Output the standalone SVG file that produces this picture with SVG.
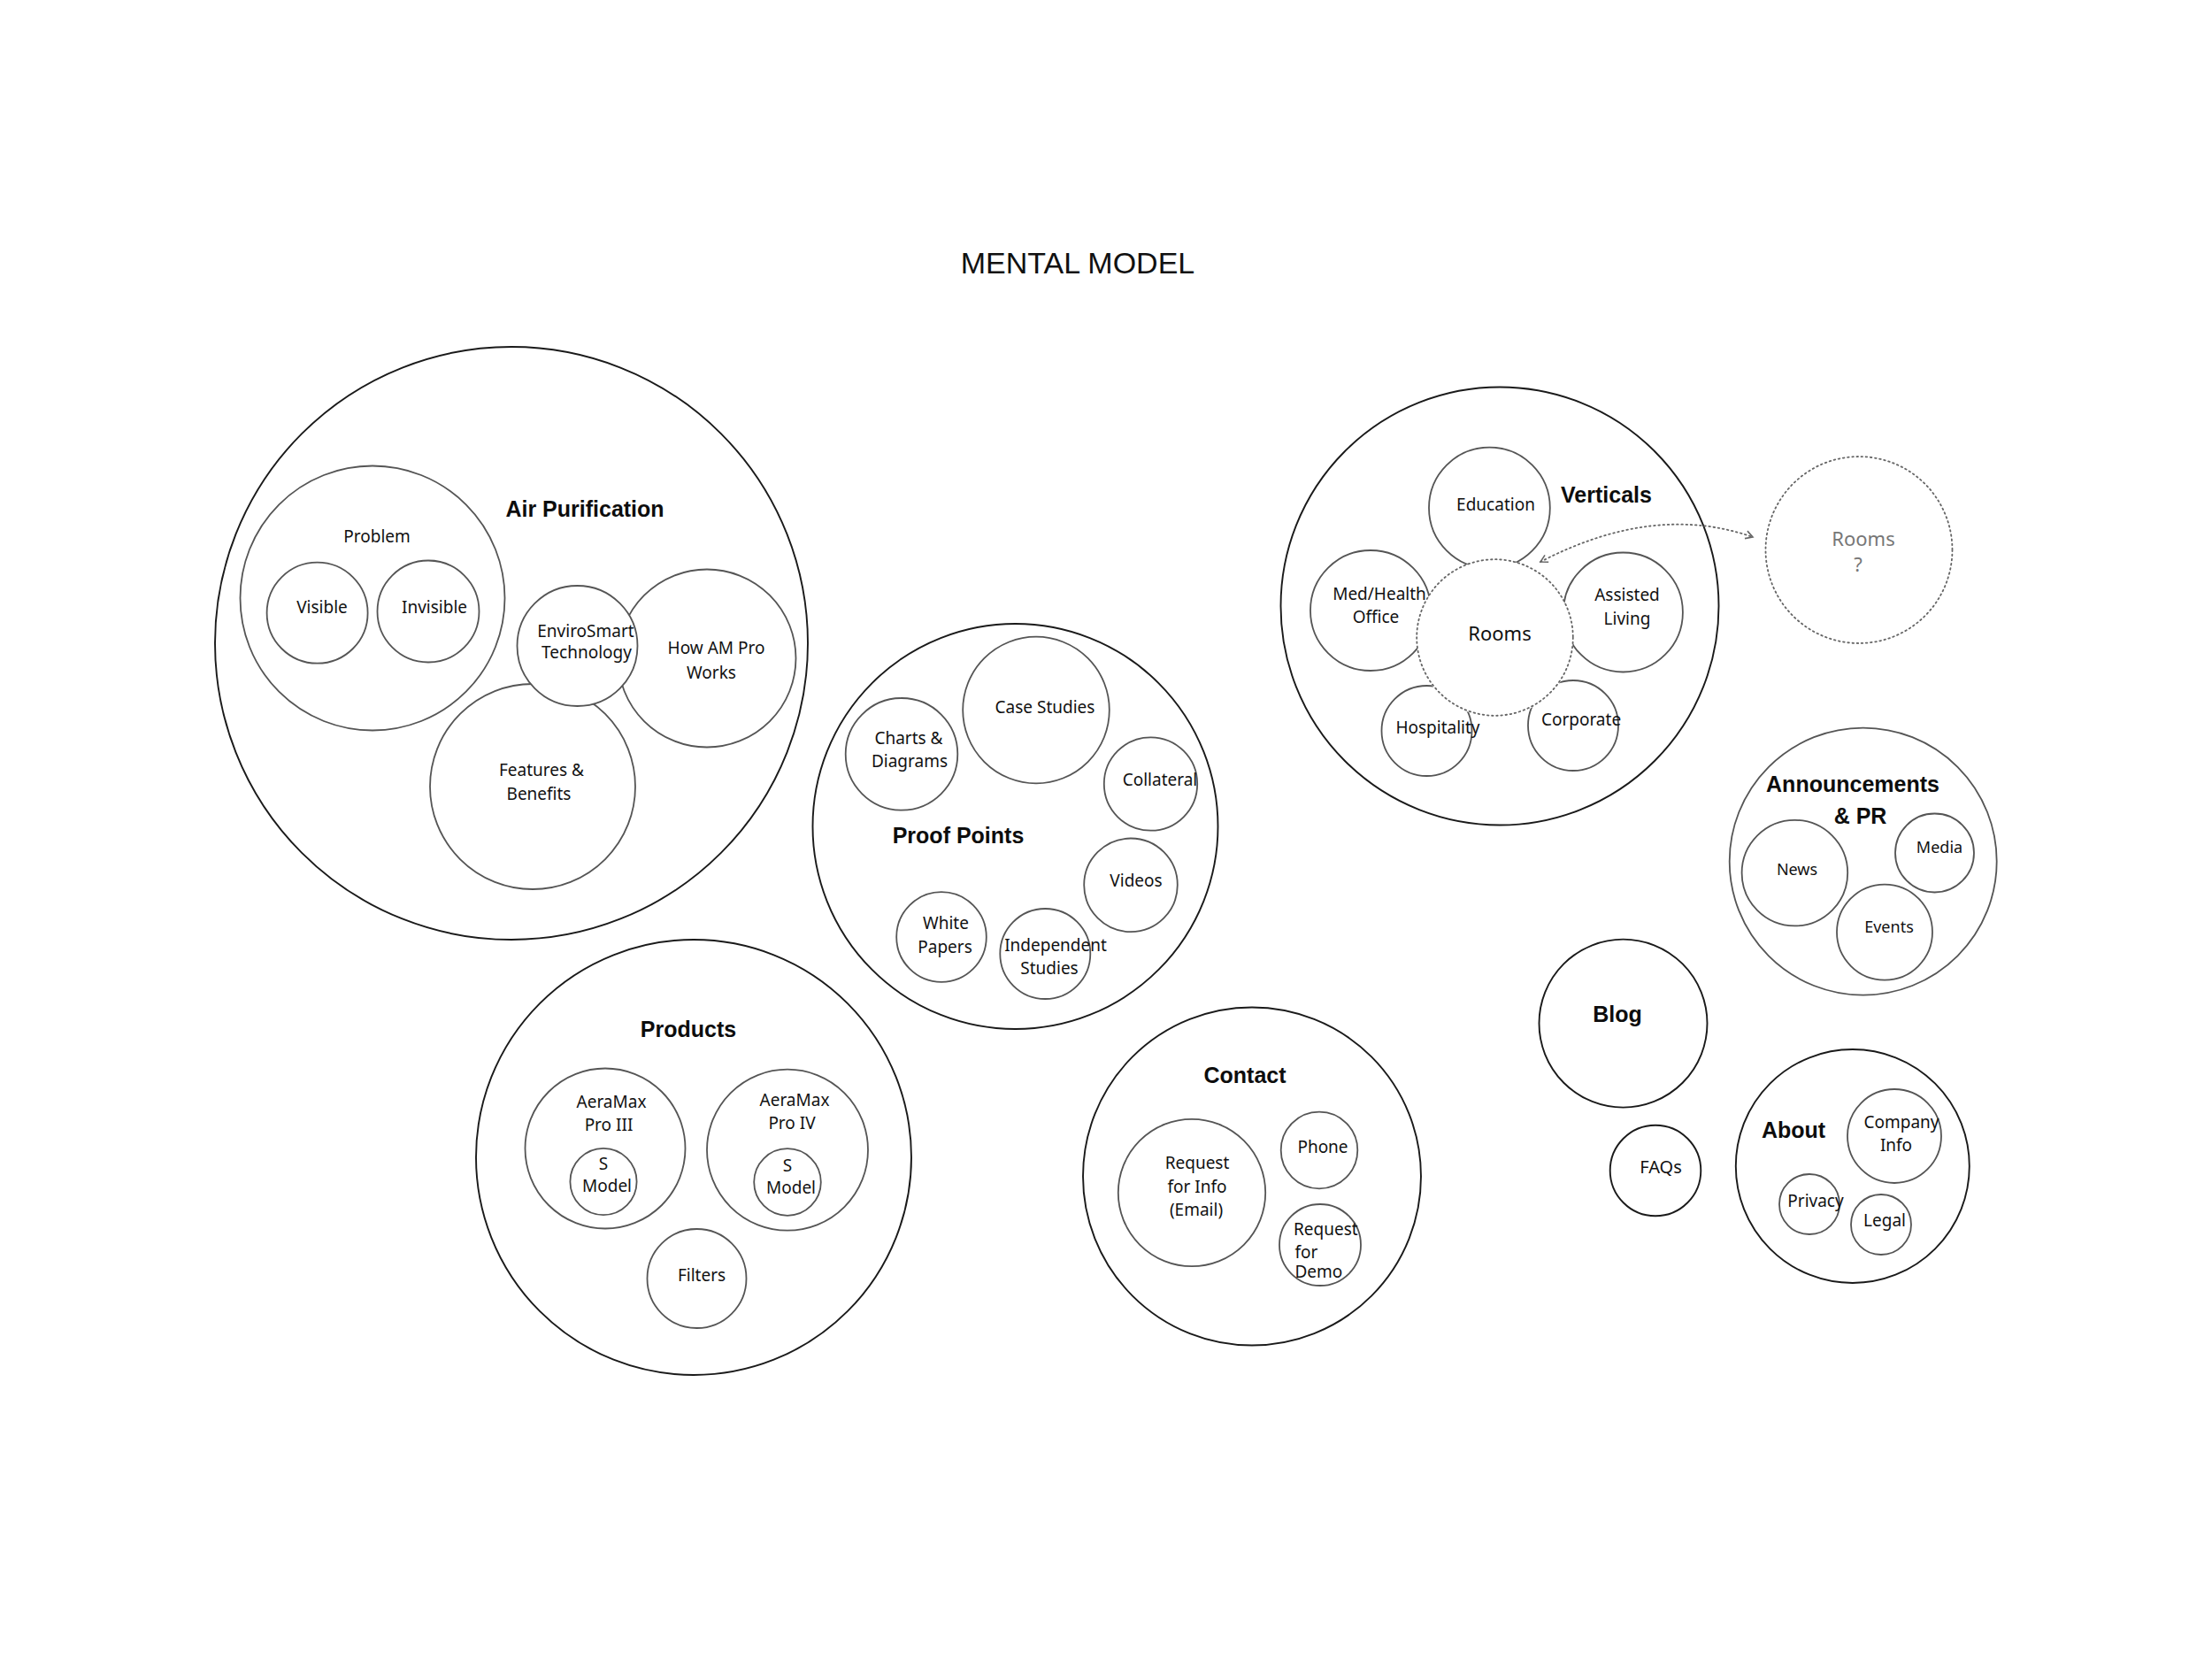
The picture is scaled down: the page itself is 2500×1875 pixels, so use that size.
<svg xmlns="http://www.w3.org/2000/svg" width="2500" height="1875" viewBox="0 0 2500 1875">
<style>
.bg{fill:#ffffff}
.outer{fill:#ffffff;stroke:#1a1a1a;stroke-width:1.9}
.inner{fill:#ffffff;stroke:#555555;stroke-width:1.8}
.inner-open{fill:none;stroke:#555555;stroke-width:1.8}
.gray-outer{fill:#ffffff;stroke:#555555;stroke-width:1.8}
.dotted{fill:#ffffff;stroke:#666666;stroke-width:1.8;stroke-dasharray:1.6 3.6;stroke-linecap:round}
.lbl{font-family:"Noto Sans","Open Sans","DejaVu Sans",sans-serif;font-size:19px;fill:#111111;text-anchor:middle}
.lbl18{font-family:"Noto Sans","Open Sans","DejaVu Sans",sans-serif;font-size:18px;fill:#111111;text-anchor:middle}
.rooms{font-family:"Noto Sans","Open Sans","DejaVu Sans",sans-serif;font-size:22px;fill:#111111;text-anchor:middle}
.roomsq{font-family:"Noto Sans","Open Sans","DejaVu Sans",sans-serif;font-size:22px;fill:#777777;text-anchor:middle}
.head{font-family:"Liberation Sans",Arial,sans-serif;font-size:25px;font-weight:bold;fill:#0d0d0d;text-anchor:middle}
.title{font-family:"Liberation Sans",Arial,sans-serif;font-size:34px;fill:#111111;text-anchor:middle}
.conn{fill:none;stroke:#666666;stroke-width:1.8;stroke-dasharray:1.6 3.6;stroke-linecap:round}
</style>
<defs>
<marker id="chev" viewBox="0 0 12 12" refX="10" refY="6" markerWidth="12" markerHeight="12" markerUnits="userSpaceOnUse" orient="auto-start-reverse">
<path d="M2,1.5 L10,6 L2,10.5" fill="none" stroke="#666666" stroke-width="1.6"/>
</marker>
<mask id="outside-rooms" maskUnits="userSpaceOnUse" x="0" y="0" width="2500" height="1875">
<rect x="0" y="0" width="2500" height="1875" fill="#ffffff"/>
<circle cx="1689.5" cy="720.5" r="89.5" fill="#000000"/>
</mask>
</defs>
<rect class="bg" x="0" y="0" width="2500" height="1875"/>

<text class="title" x="1218" y="309">MENTAL MODEL</text>

<g id="air-purification">
<circle class="outer" cx="578" cy="727" r="335"/>
<text class="head" x="661" y="584">Air Purification</text>
</g>
<g id="problem">
<circle class="inner" cx="421" cy="676" r="149.5"/>
<text class="lbl" x="426" y="613">Problem</text>
</g>
<g id="visible">
<circle class="inner" cx="358.6" cy="692.7" r="57"/>
<text class="lbl" x="364" y="693">Visible</text>
</g>
<g id="invisible">
<circle class="inner" cx="484" cy="691" r="57.5"/>
<text class="lbl" x="491" y="693">Invisible</text>
</g>
<g id="features-benefits">
<circle class="inner" cx="602" cy="889" r="116"/>
<text class="lbl" x="612" y="877">Features &amp;</text>
<text class="lbl" x="609" y="903.5">Benefits</text>
</g>
<g id="how-am-pro-works">
<circle class="inner" cx="799" cy="744" r="100.5"/>
<text class="lbl" x="809.5" y="739">How AM Pro</text>
<text class="lbl" x="804" y="766.5">Works</text>
</g>
<g id="envirosmart">
<circle class="inner" cx="652.5" cy="730" r="68"/>
<text class="lbl" x="662" y="719.5">EnviroSmart</text>
<text class="lbl" x="663" y="744">Technology</text>
</g>

<g id="proof-points">
<circle class="outer" cx="1147.5" cy="934" r="229"/>
<text class="head" x="1083" y="953">Proof Points</text>
</g>
<g id="case-studies">
<circle class="inner" cx="1171" cy="802.5" r="82.8"/>
<text class="lbl" x="1181" y="806">Case Studies</text>
</g>
<g id="charts-diagrams">
<circle class="inner" cx="1019" cy="852.3" r="63.3"/>
<text class="lbl" x="1027" y="841">Charts &amp;</text>
<text class="lbl" x="1028" y="867">Diagrams</text>
</g>
<g id="collateral">
<circle class="inner" cx="1300.5" cy="886" r="52.7"/>
<text class="lbl" x="1311" y="888">Collateral</text>
</g>
<g id="videos">
<circle class="inner" cx="1278" cy="1000.3" r="52.8"/>
<text class="lbl" x="1284" y="1002">Videos</text>
</g>
<g id="white-papers">
<circle class="inner" cx="1064" cy="1059" r="50.8"/>
<text class="lbl" x="1069" y="1050">White</text>
<text class="lbl" x="1068" y="1077">Papers</text>
</g>
<g id="independent-studies">
<circle class="inner" cx="1181.3" cy="1078" r="51"/>
<text class="lbl" x="1193" y="1075">Independent</text>
<text class="lbl" x="1186" y="1101">Studies</text>
</g>

<g id="verticals">
<circle class="outer" cx="1695" cy="685" r="247.5"/>
<text class="head" x="1815.5" y="568">Verticals</text>
</g>
<g id="education">
<circle class="inner" cx="1683.4" cy="574" r="68.4"/>
<text class="lbl" x="1690.5" y="577">Education</text>
</g>
<g id="med-health-office">
<circle class="inner" cx="1549" cy="690" r="68"/>
<text class="lbl" x="1559" y="678">Med/Health</text>
<text class="lbl" x="1555" y="703.5">Office</text>
</g>
<g id="assisted-living">
<circle class="inner" cx="1834.4" cy="692" r="67.5"/>
<text class="lbl" x="1839" y="679">Assisted</text>
<text class="lbl" x="1839" y="705.6">Living</text>
</g>
<g id="rooms">
<circle class="dotted" cx="1689.5" cy="720.5" r="88.3"/>
<text class="rooms" x="1695" y="724">Rooms</text>
</g>
<g id="hospitality">
<circle class="inner-open" cx="1612.5" cy="826" r="51" mask="url(#outside-rooms)"/>
<text class="lbl" x="1625" y="828.5">Hospitality</text>
</g>
<g id="corporate">
<circle class="inner-open" cx="1778" cy="820" r="51" mask="url(#outside-rooms)"/>
<text class="lbl" x="1787" y="820">Corporate</text>
</g>

<g id="rooms-question">
<circle class="dotted" cx="2101" cy="621.5" r="105.5"/>
<text class="roomsq" x="2106" y="617">Rooms</text>
<text class="roomsq" x="2100" y="646">?</text>
</g>

<g id="products">
<circle class="outer" cx="784" cy="1308" r="246"/>
<text class="head" x="778" y="1172">Products</text>
</g>
<g id="aeramax-pro-iii">
<circle class="inner" cx="684" cy="1298" r="90.5"/>
<text class="lbl" x="691" y="1252">AeraMax</text>
<text class="lbl" x="688" y="1278">Pro III</text>
</g>
<g id="s-model-iii">
<circle class="inner" cx="682" cy="1335.5" r="37.6"/>
<text class="lbl" x="682" y="1322">S</text>
<text class="lbl" x="686" y="1347">Model</text>
</g>
<g id="aeramax-pro-iv">
<circle class="inner" cx="890" cy="1299.7" r="91"/>
<text class="lbl" x="898" y="1250">AeraMax</text>
<text class="lbl" x="895" y="1276">Pro IV</text>
</g>
<g id="s-model-iv">
<circle class="inner" cx="890" cy="1336" r="37.8"/>
<text class="lbl" x="890" y="1324">S</text>
<text class="lbl" x="894" y="1349">Model</text>
</g>
<g id="filters">
<circle class="inner" cx="787.5" cy="1445" r="56"/>
<text class="lbl" x="793" y="1448">Filters</text>
</g>

<g id="contact">
<circle class="outer" cx="1415" cy="1329.5" r="191"/>
<text class="head" x="1407" y="1224">Contact</text>
</g>
<g id="request-info">
<circle class="inner" cx="1347" cy="1348" r="83.2"/>
<text class="lbl" x="1353" y="1321">Request</text>
<text class="lbl" x="1353" y="1348">for Info</text>
<text class="lbl" x="1352" y="1374">(Email)</text>
</g>
<g id="phone">
<circle class="inner" cx="1491" cy="1300" r="43.3"/>
<text class="lbl" x="1495" y="1303">Phone</text>
</g>
<g id="request-demo">
<circle class="inner" cx="1492" cy="1407" r="46"/>
<text class="lbl" x="1462" y="1396" style="text-anchor:start">Request</text>
<text class="lbl" x="1463.5" y="1422" style="text-anchor:start">for</text>
<text class="lbl" x="1463.5" y="1444" style="text-anchor:start">Demo</text>
</g>

<g id="announcements-pr">
<circle class="gray-outer" cx="2105.7" cy="973.6" r="151"/>
<text class="head" x="2094" y="895">Announcements</text>
<text class="head" x="2102.5" y="931">&amp; PR</text>
</g>
<g id="news">
<circle class="inner" cx="2028.4" cy="986.6" r="59.8"/>
<text class="lbl18" x="2031" y="988.5">News</text>
</g>
<g id="media">
<circle class="inner" cx="2186.5" cy="964" r="44.5"/>
<text class="lbl18" x="2192" y="963.5">Media</text>
</g>
<g id="events">
<circle class="inner" cx="2130" cy="1053.6" r="54"/>
<text class="lbl18" x="2135" y="1053.5">Events</text>
</g>

<g id="blog">
<circle class="outer" cx="1834.5" cy="1156.6" r="95"/>
<text class="head" x="1828" y="1155">Blog</text>
</g>
<g id="faqs">
<circle class="outer" cx="1871" cy="1323" r="51.3"/>
<text class="lbl" x="1877" y="1326" style="font-size:20px">FAQs</text>
</g>

<g id="about">
<circle class="outer" cx="2093.8" cy="1318" r="132"/>
<text class="head" x="2027" y="1286">About</text>
</g>
<g id="company-info">
<circle class="inner" cx="2141" cy="1284" r="53"/>
<text class="lbl" x="2149" y="1275">Company</text>
<text class="lbl" x="2143" y="1301">Info</text>
</g>
<g id="privacy">
<circle class="inner" cx="2045" cy="1361" r="34"/>
<text class="lbl" x="2052" y="1364">Privacy</text>
</g>
<g id="legal">
<circle class="inner" cx="2126" cy="1384" r="34"/>
<text class="lbl" x="2130" y="1386">Legal</text>
</g>

<g id="connectors">
<path class="conn" d="M1741,635 Q1870,568 1981,607" marker-start="url(#chev)" marker-end="url(#chev)"/>
</g>
</svg>
